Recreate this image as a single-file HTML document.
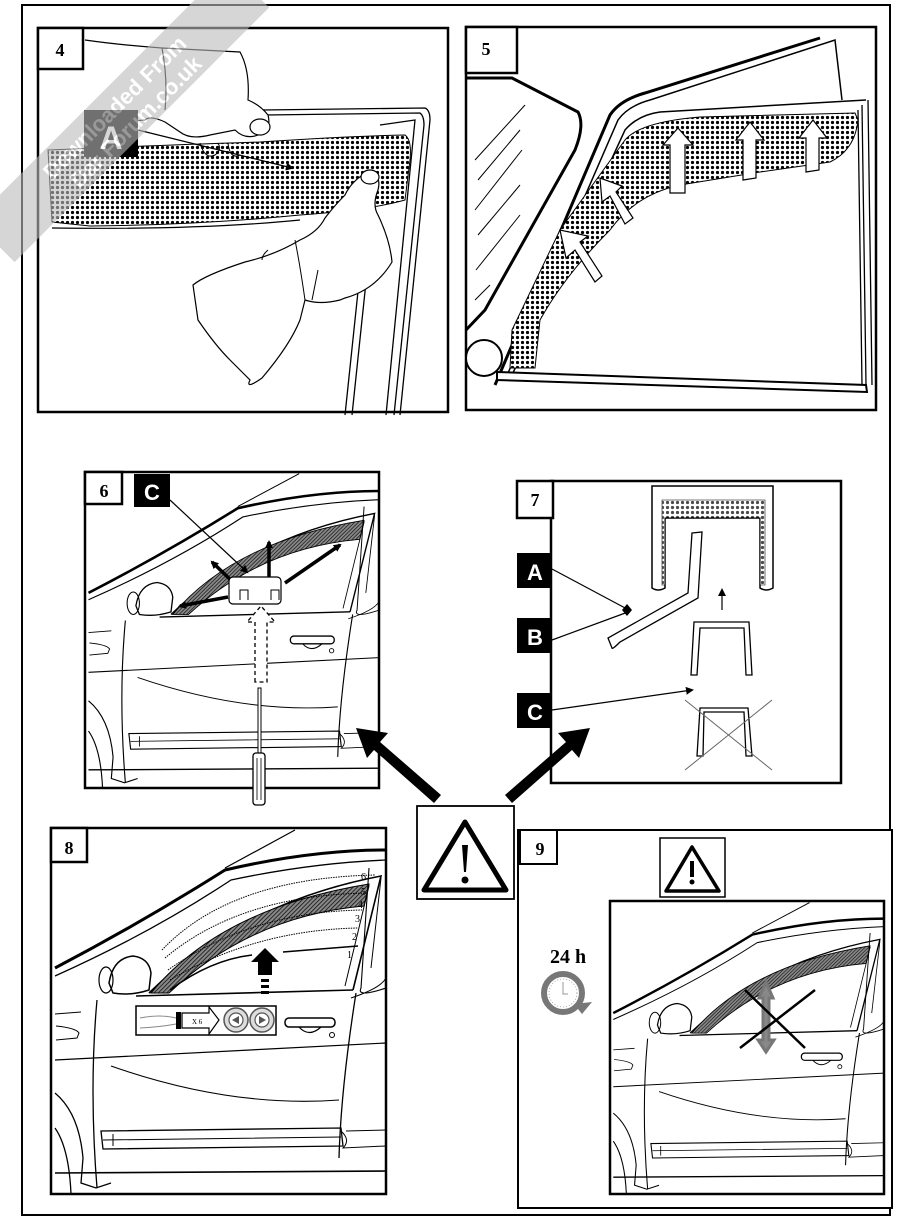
<!DOCTYPE html>
<html><head><meta charset="utf-8"><style>
html,body{margin:0;padding:0;background:#fff;}
svg{display:block;}
text{font-family:"Liberation Serif",serif;}
.sans{font-family:"Liberation Sans",sans-serif;font-weight:bold;}
</style></head><body>
<svg width="911" height="1217" viewBox="0 0 911 1217" xmlns="http://www.w3.org/2000/svg">
<defs>
<pattern id="dots" width="5" height="5" patternUnits="userSpaceOnUse">
<rect width="5" height="5" fill="#fff"/><circle cx="2.5" cy="2.5" r="1.6" fill="#000"/>
</pattern>
<pattern id="hatch" width="3" height="3" patternUnits="userSpaceOnUse" patternTransform="rotate(45)">
<rect width="3" height="3" fill="#888"/><line x1="0" y1="0" x2="0" y2="3" stroke="#111" stroke-width="1.6"/>
</pattern>
<marker id="ah" markerWidth="8" markerHeight="8" refX="6" refY="4" orient="auto" markerUnits="userSpaceOnUse">
<path d="M0,0 L8,4 L0,8 Z" fill="#000"/></marker>
<g id="car" fill="none" stroke="#000">
 <path d="M4,140 Q90,95 174,42 Q260,22 335,22" stroke-width="3"/>
 <path d="M4,148 Q100,105 180,52 Q260,35 335,32" stroke-width="1.3"/>
 <path d="M174,40 L244,2" stroke-width="1.2"/>
 <path d="M98,165 Q190,75 330,48 L302,162" stroke-width="1.6"/>
 <path d="M108,160 Q200,80 318,58 L294,158" stroke-width="1"/>
 <path d="M100,165 Q170,80 318,56 L313,78 Q200,88 118,165 Z" fill="url(#hatch)" stroke-width="1"/>
 <path d="M85,168 L302,162" stroke-width="1.6"/>
 <path d="M58,155 Q62,130 82,128 Q98,130 100,145 L98,162 Q80,168 62,165 Z" fill="#fff" stroke-width="1.5"/>
 <ellipse cx="55" cy="152" rx="7" ry="13" stroke-width="1.2"/>
 <path d="M46,172 Q38,260 46,360" stroke-width="1.3"/>
 <path d="M305,165 Q290,260 288,330" stroke-width="1.3"/>
 <path d="M318,40 L310,160 Q305,170 335,160" stroke-width="1.1"/>
 <rect x="234" y="190" width="50" height="9" rx="4" stroke-width="1.5"/>
 <path d="M248,199 Q258,210 270,199" stroke-width="1.2"/>
 <circle cx="281" cy="207" r="2.5" stroke-width="1"/>
 <path d="M4,232 L335,215" stroke-width="1.2"/>
 <path d="M60,238 Q180,280 288,272" stroke-width="1.1"/>
 <path d="M4,186 L30,184" stroke-width="1"/>
 <path d="M5,198 Q25,200 28,205 L26,210 L5,212" stroke-width="1"/>
 <path d="M50,303 L290,300 L292,318 L52,321 Z" stroke-width="1.3"/>
 <path d="M62,306 L62,318 M52,312 L290,309" stroke-width="1"/>
 <path d="M290,303 Q300,312 292,320 L335,318 M295,303 L335,302" stroke-width="1"/>
 <path d="M4,345 L335,343" stroke-width="1.6"/>
 <path d="M4,265 Q28,285 32,330 L30,355 L45,360 L60,355" stroke-width="1.3"/>
 <path d="M4,300 Q18,320 20,366" stroke-width="1.3"/>
 <path d="M300,170 Q330,160 335,150 M330,50 L320,140" stroke-width="1"/>
</g>
</defs>

<rect x="22" y="5" width="868" height="1210" fill="none" stroke="#000" stroke-width="2"/>

<!-- PANEL 4 -->
<rect x="38" y="28" width="410" height="384" fill="#fff" stroke="#000" stroke-width="2.5"/>
<g fill="none" stroke="#000" stroke-width="1.3">
 <path d="M262,110 L425,108 Q430,110 430,120 L400,415"/>
 <path d="M265,115 L420,113 Q424,116 424,125 L394,415"/>
 <path d="M380,125 L415,120 L386,415"/>
 <path d="M372,225 L352,415 M365,225 L345,415"/>
</g>
<path d="M48,150 Q140,146 260,142 Q350,136 405,135 Q412,140 410,160 L405,200 Q370,210 300,215 Q200,225 90,226 L52,222 Z" fill="url(#dots)" stroke="#000" stroke-width="1"/>
<path d="M52,228 Q200,230 300,220" fill="none" stroke="#000" stroke-width="1.2"/>
<path d="M85,40 Q120,45 162,48 L240,52 Q250,70 248,100 Q260,105 268,115 Q272,130 258,135 Q245,140 235,130 L210,135 Q190,140 180,132 L165,122 Q150,115 145,120 L120,122 M162,48 Q168,80 165,110" fill="#fff" stroke="#000" stroke-width="1.2"/>
<ellipse cx="260" cy="127" rx="10" ry="8" fill="#fff" stroke="#000" stroke-width="1.2"/>
<path d="M200,143 Q205,160 215,155 Q222,150 218,143 M228,143 Q230,160 240,155" fill="none" stroke="#000" stroke-width="1"/>
<path d="M193,285 Q205,275 245,262 Q275,255 300,240 Q318,232 325,218 Q335,205 345,195 Q352,180 368,172 Q382,175 378,190 Q372,205 378,215 Q390,240 392,262 Q375,290 345,298 L340,300 Q320,305 305,300 L300,320 Q290,345 262,378 Q245,390 250,380 L230,360 Q215,345 198,320 Z" fill="#fff" stroke="#000" stroke-width="1.2"/>
<ellipse cx="370" cy="177" rx="9" ry="7" fill="#fff" stroke="#000" stroke-width="1.2"/>
<path d="M295,240 Q300,265 305,300 M268,250 Q262,255 262,260 M318,270 L312,300" fill="none" stroke="#000" stroke-width="1"/>
<rect x="84" y="110" width="54" height="47" fill="#000"/>
<text x="111" y="149" class="sans" font-size="32" fill="#fff" text-anchor="middle">A</text>
<line x1="138" y1="130" x2="292" y2="168" stroke="#000" stroke-width="1.2" marker-end="url(#ah)"/>
<rect x="38" y="28" width="45" height="41" fill="#fff" stroke="#000" stroke-width="2.5"/>
<text x="60" y="56" font-size="18" font-weight="bold" text-anchor="middle">4</text>

<!-- PANEL 5 -->
<rect x="466" y="27" width="410" height="383" fill="#fff" stroke="#000" stroke-width="2.5"/>
<path d="M466,78 L512,78 L578,112 Q585,125 575,150 L485,310 L466,330" fill="none" stroke="#000" stroke-width="3"/>
<g stroke="#000" stroke-width="1" fill="none">
 <path d="M475,160 L525,105 M478,180 L520,130 M475,210 L522,150 M478,235 L520,185 M476,270 L520,215 M475,300 L490,285"/>
</g>
<path d="M495,385 L610,115 Q620,100 645,93 L820,38" fill="none" stroke="#000" stroke-width="3"/>
<path d="M505,380 L618,120 Q628,106 650,100 L835,40 L842,100" fill="none" stroke="#000" stroke-width="1.5"/>
<path d="M512,375 L625,130 Q638,115 660,112 L866,100" fill="none" stroke="#000" stroke-width="1.5"/>
<path d="M868,100 L872,385 M862,105 L866,385 M858,110 L862,385" fill="none" stroke="#000" stroke-width="1.3"/>
<path d="M497,372 L866,385 L867,392 L497,380 Z" fill="#fff" stroke="#000" stroke-width="2"/>
<path d="M510,368 L535,368 L540,320 Q565,275 610,230 Q635,195 680,185 L760,172 L830,162 Q855,150 858,120 L855,113 L700,117 Q640,122 625,140 L560,230 L512,330 Z" fill="url(#dots)" stroke="#000" stroke-width="1"/>
<g fill="#fff" stroke="#000" stroke-width="1.2">
 <path d="M595,282 L575,250 L566,258 L560,230 L588,236 L580,242 L602,276 Z"/>
 <path d="M625,224 L610,196 L602,202 L600,178 L622,186 L616,192 L633,218 Z"/>
 <path d="M670,193 L670,145 L663,145 L678,128 L693,145 L685,145 L685,193 Z"/>
 <path d="M743,180 L743,140 L736,140 L750,122 L764,140 L756,140 L756,178 Z"/>
 <path d="M806,172 L806,138 L799,138 L813,120 L827,138 L819,138 L819,170 Z"/>
</g>
<circle cx="484" cy="358" r="18" fill="#fff" stroke="#000" stroke-width="2"/>
<rect x="466" y="27" width="51" height="46" fill="#fff" stroke="#000" stroke-width="2.5"/>
<text x="486" y="55" font-size="18" font-weight="bold" text-anchor="middle">5</text>

<!-- PANEL 6 -->
<rect x="85" y="472" width="294" height="316" fill="#fff" stroke="#000" stroke-width="2.5"/>
<svg x="85" y="472" width="294" height="316" viewBox="0 0 335 366" preserveAspectRatio="none"><use href="#car"/></svg>
<g stroke="#000" stroke-width="3.5" fill="none">
 <line x1="228" y1="597" x2="180" y2="606" marker-end="url(#ah)"/>
 <line x1="236" y1="585" x2="212" y2="562" marker-end="url(#ah)"/>
 <line x1="269" y1="578" x2="269" y2="542" marker-end="url(#ah)"/>
 <line x1="285" y1="583" x2="340" y2="545" marker-end="url(#ah)"/>
</g>
<rect x="229" y="577" width="52" height="27" rx="4" fill="#fff" stroke="#000" stroke-width="1.2"/>
<path d="M240,600 L240,590 L248,590 L248,600 M271,600 L271,590 L279,590 L279,600" fill="none" stroke="#000" stroke-width="1"/>
<path d="M255,682 L255,622 L247,622 L261,606 L275,622 L267,622 L267,682 Z" fill="#fff" stroke="#000" stroke-width="1.3" stroke-dasharray="4,3"/>
<rect x="258" y="688" width="3" height="65" fill="#fff" stroke="#000" stroke-width="1"/>
<rect x="253" y="753" width="12" height="52" rx="3" fill="#fff" stroke="#000" stroke-width="1.3"/>
<path d="M257,758 L257,800 M261,758 L261,800" stroke="#000" stroke-width="0.8"/>
<rect x="134" y="474" width="36" height="33" fill="#000"/>
<text x="152" y="500" class="sans" font-size="22" fill="#fff" text-anchor="middle">C</text>
<line x1="170" y1="500" x2="247" y2="572" stroke="#000" stroke-width="1.2" marker-end="url(#ah)"/>
<rect x="85" y="472" width="37" height="32" fill="#fff" stroke="#000" stroke-width="2.5"/>
<text x="104" y="497" font-size="18" font-weight="bold" text-anchor="middle">6</text>

<!-- PANEL 7 -->
<rect x="551" y="481" width="290" height="302" fill="#fff" stroke="#000" stroke-width="2.5"/>
<path d="M652,588 L652,486 L773,486 L773,588 Q766,592 760,588 L760,518 L665,518 L665,588 Q658,592 652,588 Z" fill="#fff" stroke="#000" stroke-width="1.5"/>
<path d="M662,585 L662,500 L765,500 L765,585 L760,585 L760,518 L665,518 L665,585 Z" fill="url(#dots)" stroke="#000" stroke-width="0.8" opacity="0.7"/>
<path d="M692,533 L702,532 L698,598 L620,642 Q612,650 612,648 L608,638 L688,593 Z" fill="#fff" stroke="#000" stroke-width="1.3"/>
<line x1="722" y1="610" x2="722" y2="590" stroke="#000" stroke-width="1.2" marker-end="url(#ah)"/>
<path d="M691,675 L694,622 L749,622 L752,675 L746,675 L744,628 L700,628 L697,675 Z" fill="#fff" stroke="#000" stroke-width="1.3"/>
<path d="M697,756 L700,708 L748,708 L752,756 L746,756 L744,712 L704,712 L703,756 Z" fill="#fff" stroke="#000" stroke-width="1.3"/>
<path d="M685,700 L772,770 M772,700 L685,770" stroke="#666" stroke-width="1"/>
<rect x="517" y="553" width="35" height="35" fill="#000"/>
<text x="535" y="580" class="sans" font-size="22" fill="#fff" text-anchor="middle">A</text>
<rect x="517" y="618" width="35" height="35" fill="#000"/>
<text x="535" y="645" class="sans" font-size="22" fill="#fff" text-anchor="middle">B</text>
<rect x="517" y="693" width="35" height="35" fill="#000"/>
<text x="535" y="720" class="sans" font-size="22" fill="#fff" text-anchor="middle">C</text>
<line x1="552" y1="569" x2="627" y2="609" stroke="#000" stroke-width="1.2"/>
<path d="M627,604 L632,610 L627,616 L622,610 Z" fill="#000"/>
<line x1="552" y1="640" x2="628" y2="612" stroke="#000" stroke-width="1.2"/>
<line x1="552" y1="710" x2="692" y2="690" stroke="#000" stroke-width="1.2" marker-end="url(#ah)"/>
<rect x="517" y="481" width="36" height="37" fill="#fff" stroke="#000" stroke-width="2.5"/>
<text x="535" y="506" font-size="18" font-weight="bold" text-anchor="middle">7</text>

<!-- Big arrows -->
<path d="M441,795 L380,742 L388,733 L356,728 L367,758 L374,750 L434,803 Z" fill="#000"/>
<path d="M505,795 L566,742 L558,733 L590,728 L579,758 L572,750 L512,803 Z" fill="#000"/>

<!-- PANEL 8 -->
<rect x="51" y="828" width="335" height="366" fill="#fff" stroke="#000" stroke-width="2.5"/>
<svg x="51" y="828" width="335" height="366" viewBox="0 0 335 366"><use href="#car"/></svg>
<g fill="none" stroke="#000" stroke-width="1" stroke-dasharray="1.5,1">
 <path d="M162,950 Q230,878 375,875"/>
 <path d="M165,958 Q240,895 368,893"/>
 <path d="M168,970 Q250,912 362,910"/>
 <path d="M170,980 Q255,930 358,928"/>
</g>
<path d="M170,990 Q210,960 252,955 M283,952 L358,946" fill="none" stroke="#000" stroke-width="1.5"/>
<g font-size="10" fill="#000">
<text x="361" y="880">6</text><text x="361" y="895">5</text><text x="358" y="908">4</text>
<text x="355" y="922">3</text><text x="352" y="940">2</text><text x="347" y="958">1</text>
</g>
<path d="M258,975 L258,962 L251,962 L265,948 L279,962 L272,962 L272,975 Z" fill="#000"/>
<rect x="261" y="979" width="8" height="3" fill="#000"/><rect x="261" y="985" width="8" height="3" fill="#000"/><rect x="261" y="991" width="8" height="3" fill="#000"/>
<rect x="136" y="1006" width="140" height="29" fill="#fff" stroke="#000" stroke-width="1.5"/>
<path d="M140,1018 Q160,1014 176,1018 M140,1028 Q160,1027 176,1024" fill="none" stroke="#888" stroke-width="1"/>
<rect x="176" y="1012" width="5" height="17" fill="#000"/>
<path d="M182,1013 L209,1013 L209,1007 L219,1020 L209,1034 L209,1028 L182,1028 Z" fill="#fff" stroke="#000" stroke-width="1.2"/>
<text x="192" y="1024" font-size="7">X 6</text>
<circle cx="236" cy="1020" r="12" fill="#ddd" stroke="#555" stroke-width="1.5"/>
<circle cx="236" cy="1020" r="7" fill="#fff" stroke="#555" stroke-width="1.2"/>
<path d="M239,1016 L232,1020 L239,1024 Z" fill="#555"/>
<circle cx="262" cy="1020" r="12" fill="#ddd" stroke="#555" stroke-width="1.5"/>
<circle cx="262" cy="1020" r="7" fill="#fff" stroke="#555" stroke-width="1.2"/>
<path d="M259,1016 L266,1020 L259,1024 Z" fill="#555"/>
<rect x="51" y="828" width="36" height="34" fill="#fff" stroke="#000" stroke-width="2.5"/>
<text x="69" y="854" font-size="18" font-weight="bold" text-anchor="middle">8</text>

<!-- Warning box -->
<rect x="417" y="806" width="97" height="93" fill="#fff" stroke="#000" stroke-width="1.8"/>
<path d="M465,822 L506,890 L424,890 Z" fill="none" stroke="#000" stroke-width="5" stroke-linejoin="round"/>
<path d="M462,845 L468,845 L466,872 L464,872 Z" fill="#000"/>
<circle cx="465" cy="880" r="3.5" fill="#000"/>

<!-- PANEL 9 -->
<rect x="518" y="830" width="374" height="378" fill="#fff" stroke="#000" stroke-width="2"/>
<rect x="520" y="830" width="37" height="34" fill="#fff" stroke="#000" stroke-width="2"/>
<text x="540" y="855" font-size="18" font-weight="bold" text-anchor="middle">9</text>
<rect x="660" y="838" width="65" height="59" fill="#fff" stroke="#000" stroke-width="1.5"/>
<path d="M692,847 L719,891 L666,891 Z" fill="none" stroke="#000" stroke-width="3.5" stroke-linejoin="round"/>
<rect x="690" y="861" width="4" height="16" fill="#000"/><circle cx="692" cy="882" r="2.5" fill="#000"/>
<rect x="610" y="901" width="274" height="293" fill="#fff" stroke="#000" stroke-width="2.5"/>
<svg x="610" y="901" width="274" height="293" viewBox="0 0 335 366" preserveAspectRatio="none"><use href="#car"/></svg>
<path d="M766,982 L759,998 L763,998 L763,1040 L758,1040 L766,1052 L774,1040 L769,1040 L769,998 L773,998 Z" fill="#888" stroke="#777" stroke-width="3"/>
<path d="M740,1048 L815,990 M745,990 L805,1048" stroke="#000" stroke-width="2.5"/>
<text x="568" y="963" font-size="20" font-weight="bold" text-anchor="middle">24 h</text>
<circle cx="563" cy="993" r="19" fill="#fff" stroke="#777" stroke-width="6"/>
<circle cx="563" cy="993" r="14" fill="#fff" stroke="#999" stroke-width="0.8" stroke-dasharray="1,2"/>
<path d="M563,982 L563,994 L568,994" stroke="#999" stroke-width="1" fill="none"/>
<path d="M574,1004 L592,1002 L582,1014 Z" fill="#777"/>

<!-- watermark -->
<g transform="rotate(-45 115 115)" opacity="0.6">
<rect x="-60" y="90" width="360" height="58" fill="#bbb"/>
<text x="120" y="117" class="sans" font-size="22" fill="#fff" text-anchor="middle">Downloaded From</text>
<text x="125" y="142" class="sans" font-size="22" fill="#fff" text-anchor="middle">Dar Forum.co.uk</text>
</g>
</svg>
</body></html>
